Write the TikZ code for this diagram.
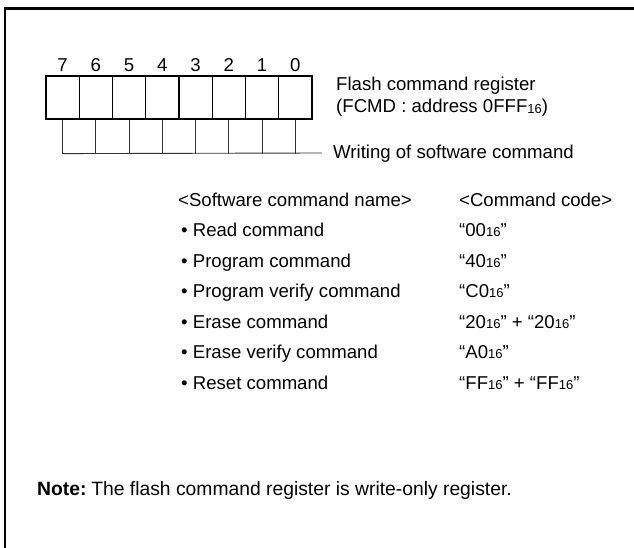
\documentclass[tikz,border=0pt]{standalone}
\usepackage{fontspec}
\setmainfont{Liberation Sans}
\newcommand{\hexsub}{\raisebox{-0.6pt}{\fontsize{13}{13}\selectfont 16}}
\begin{document}
\begin{tikzpicture}[x=1pt,y=-1pt,
  txt/.style={anchor=base west, inner sep=0pt, font=\fontsize{18.6}{22}\selectfont},
  notetxt/.style={anchor=base west, inner sep=0pt, font=\fontsize{19.3}{22}\selectfont},
  bitnum/.style={anchor=base, inner sep=0pt, font=\fontsize{18.6}{22}\selectfont},
  bitbox/.style={draw, line width=1.2pt, minimum width=33.25pt, minimum height=43pt, inner sep=0pt},
  wline/.style={draw=black!80, line width=0.9pt},
  frame/.style={line width=2.4pt}]
\useasboundingbox (0,0) rectangle (634,548);
% outer frame (top and left edges)
\draw[frame] (640,8.7) -- (4.7,8.7) -- (4.7,560);
% register bits
\foreach \i in {0,...,7} {
  \node[bitbox] (b\i) at ({46+33.25*(7-\i)+16.625}, 97.5) {};
  \node[bitnum] (n\i) at ({46+33.25*(7-\i)+16.625}, 72) {\i};
  \draw[wline] (b\i.south) -- ++(0,34) coordinate (l\i);
}
\coordinate (wend) at (322,153);
\draw[wline] (l7) -- (wend);
\node[txt] (reg1) at (336,90.5) {Flash command register};
\node[txt] (reg2) at (336,112.5) {(FCMD : address 0FFF\hexsub)};
\node[txt] (wr) at (333,159) {Writing of software command};
% table
\node[txt] (h1) at (178,206) {<Software command name>};
\node[txt] (h2) at (459,206) {<Command code>};
\node[txt] (r1) at (181,236) {• Read command};
\node[txt] (c1) at (459,236) {“00\hexsub”};
\node[txt] (r2) at (181,267) {• Program command};
\node[txt] (c2) at (459,267) {“40\hexsub”};
\node[txt] (r3) at (181,297) {• Program verify command};
\node[txt] (c3) at (459,297) {“C0\hexsub”};
\node[txt] (r4) at (181,328) {• Erase command};
\node[txt] (c4) at (459,328) {“20\hexsub” + “20\hexsub”};
\node[txt] (r5) at (181,358) {• Erase verify command};
\node[txt] (c5) at (459,358) {“A0\hexsub”};
\node[txt] (r6) at (181,389) {• Reset command};
\node[txt] (c6) at (459,389) {“FF\hexsub” + “FF\hexsub”};
% note
\node[notetxt] (note) at (37,495) {\textbf{Note:}\hspace{0.25em}The flash command register is write-only register.};
\end{tikzpicture}
\end{document}
